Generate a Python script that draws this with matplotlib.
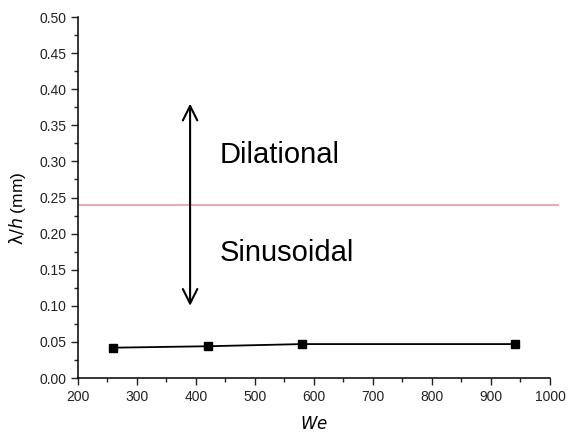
import numpy as np
import matplotlib.pyplot as plt
from matplotlib.ticker import MultipleLocator

plt.rcParams['font.family'] = ['Liberation Sans', 'DejaVu Sans']

# Weber number and wavelength / thickness ratio
we = [260, 420, 580, 940]
ratio = [0.042, 0.044, 0.047, 0.047]

# transition between the two modes
transition = 0.24

fig = plt.figure(figsize=(5.82, 4.36), dpi=100)
ax = fig.add_axes([0.134, 0.133, 0.811, 0.828])

ax.plot(we, ratio, color='black', lw=1.3, marker='s', ms=5.5)
ax.hlines(transition, 200, 1015, color='#e99aa2', lw=1.2, clip_on=False)

# double arrow marking the two regimes
ax.annotate('', xy=(390, 0.38), xytext=(390, 0.10),
            arrowprops=dict(arrowstyle='<->', color='black', lw=1.5,
                            mutation_scale=26, shrinkA=0, shrinkB=0))
ax.text(440, 0.309, 'Dilational', fontsize=21, va='center', ha='left')
ax.text(440, 0.173, 'Sinusoidal', fontsize=21, va='center', ha='left')

ax.set_xlim(200, 1000)
ax.set_ylim(0, 0.5)
ax.xaxis.set_major_locator(MultipleLocator(100))
ax.xaxis.set_minor_locator(MultipleLocator(50))
ax.yaxis.set_major_locator(MultipleLocator(0.05))
ax.yaxis.set_minor_locator(MultipleLocator(0.025))
ax.yaxis.set_major_formatter(plt.FormatStrFormatter('%.2f'))

ax.tick_params(which='major', direction='out', length=5, width=1, labelsize=10, colors='#222222')
ax.tick_params(which='minor', direction='out', length=3, width=1, colors='#222222')

for side in ['top', 'right']:
    ax.spines[side].set_visible(False)
for side in ['left', 'bottom']:
    ax.spines[side].set_linewidth(1.1)

ax.set_xlabel('$\\mathit{We}$', fontsize=12, labelpad=8)
ax.set_ylabel('$\\mathrm{\\lambda}/\\mathit{h}$ (mm)', fontsize=12.5)
ax.yaxis.set_label_coords(-0.106, 0.47)

fig.savefig('out.png', dpi=100)
